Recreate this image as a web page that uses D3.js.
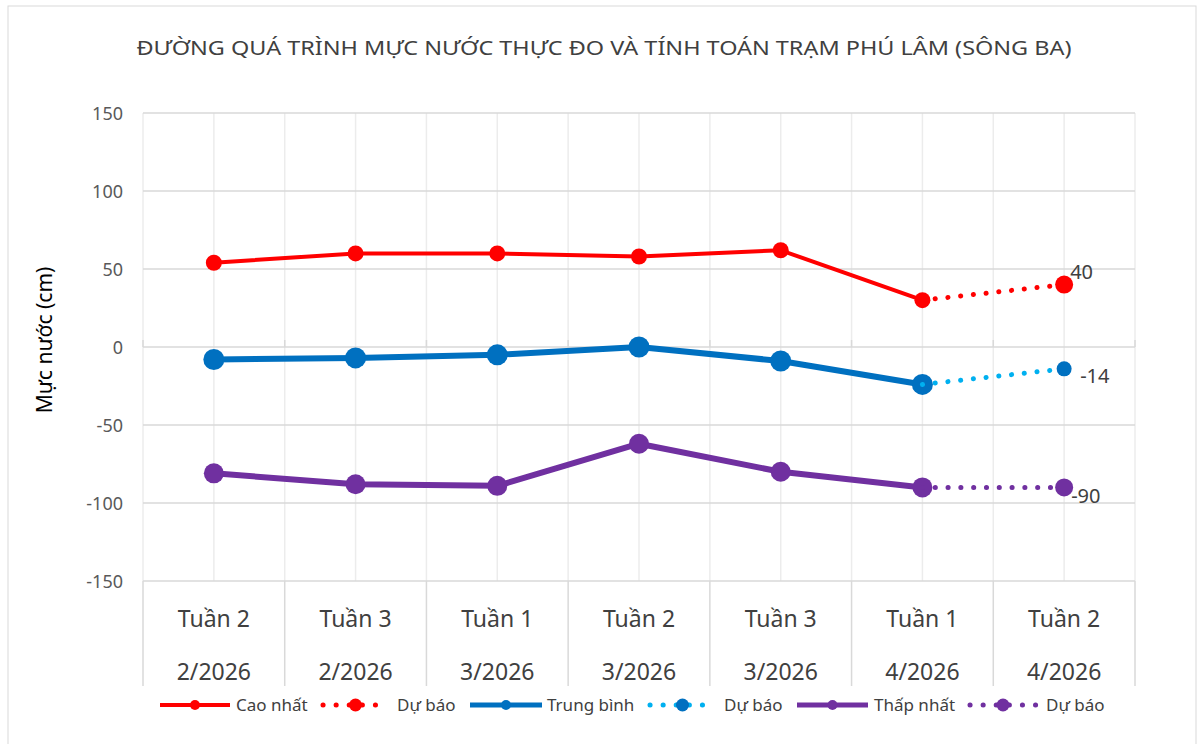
<!DOCTYPE html>
<html>
<head>
<meta charset="utf-8">
<script src="https://cdn.jsdelivr.net/npm/d3@7"></script>
<style>
  body { margin: 0; background: #fff; }
  text { font-family: "Noto Sans", "Open Sans", sans-serif; }
</style>
</head>
<body>
<script>
// du lieu doc tu hinh
const tuan = ["Tuần 2", "Tuần 3", "Tuần 1", "Tuần 2", "Tuần 3", "Tuần 1", "Tuần 2"];
const thang = ["2/2026", "2/2026", "3/2026", "3/2026", "3/2026", "4/2026", "4/2026"];
const caoNhat = [54, 60, 60, 58, 62, 30, null];
const duBaoCao = [null, null, null, null, null, 30, 40];
const trungBinh = [-8, -7, -5, 0, -9, -24, null];
const duBaoTB = [null, null, null, null, null, -24, -14];
const thapNhat = [-81, -88, -89, -62, -80, -90, null];
const duBaoThap = [null, null, null, null, null, -90, -90];
const yTicks = [150, 100, 50, 0, -50, -100, -150];

const W = 1204, H = 744;
const pLeft = 143, pRight = 1135, pTop = 113, pBottom = 581;

const svg = d3.select("body")
    .append("svg")
    .attr("width", W)
    .attr("height", H);

svg.append("rect")
    .attr("x", 8).attr("y", 6)
    .attr("width", 1188).attr("height", 745)
    .attr("fill", "#fff")
    .attr("stroke", "#d9d9d9");

const x = d3.scaleBand().domain(d3.range(tuan.length)).range([pLeft, pRight]).padding(0);
const y = d3.scaleLinear().domain([-150, 150]).range([pBottom, pTop]);
const cx = i => x(i) + x.bandwidth() / 2;

// luoi doc (bien va giua moi nhom)
const vLines = [];
d3.range(tuan.length).forEach(i => { vLines.push(x(i)); vLines.push(cx(i)); });
vLines.push(pRight);
svg.selectAll(".vgrid")
    .data(vLines)
    .enter()
    .append("line")
    .attr("class", "vgrid")
    .attr("x1", d => d).attr("x2", d => d)
    .attr("y1", pTop).attr("y2", pBottom)
    .attr("stroke", "#ececec")
    .attr("stroke-width", 1.5);

// luoi ngang
svg.selectAll(".hgrid")
    .data(yTicks)
    .enter()
    .append("line")
    .attr("class", "hgrid")
    .attr("x1", pLeft).attr("x2", pRight)
    .attr("y1", d => y(d)).attr("y2", d => y(d))
    .attr("stroke", "#d9d9d9")
    .attr("stroke-width", 1.5);

// truc 0 voi vach nho
svg.selectAll(".ztick")
    .data(d3.range(tuan.length + 1))
    .enter()
    .append("line")
    .attr("x1", i => pLeft + i * x.bandwidth()).attr("x2", i => pLeft + i * x.bandwidth())
    .attr("y1", y(0) - 7).attr("y2", y(0))
    .attr("stroke", "#d9d9d9")
    .attr("stroke-width", 1.5);

// khung nhan truc hoanh
svg.selectAll(".sep")
    .data(d3.range(tuan.length + 1))
    .enter()
    .append("line")
    .attr("class", "sep")
    .attr("x1", i => pLeft + i * x.bandwidth()).attr("x2", i => pLeft + i * x.bandwidth())
    .attr("y1", pBottom).attr("y2", 686)
    .attr("stroke", "#d9d9d9")
    .attr("stroke-width", 1.5);

// nhan truc tung
svg.selectAll(".ylab")
    .data(yTicks)
    .enter()
    .append("text")
    .attr("x", 123)
    .attr("y", d => y(d) + 7)
    .attr("text-anchor", "end")
    .attr("font-size", 18)
    .attr("fill", "#595959")
    .text(d => d);

svg.append("text")
    .attr("transform", `translate(52,340) rotate(-90)`)
    .attr("text-anchor", "middle")
    .attr("font-family", "Liberation Sans, Arial, sans-serif")
    .attr("font-size", 21)
    .attr("fill", "#000")
    .text("Mực nước (cm)");

// nhan truc hoanh
svg.selectAll(".xlab1")
    .data(tuan)
    .enter()
    .append("text")
    .attr("x", (d, i) => cx(i))
    .attr("y", 627)
    .attr("text-anchor", "middle")
    .attr("font-size", 23)
    .attr("fill", "#404040")
    .text(d => d);

svg.selectAll(".xlab2")
    .data(thang)
    .enter()
    .append("text")
    .attr("x", (d, i) => cx(i))
    .attr("y", 680)
    .attr("text-anchor", "middle")
    .attr("font-size", 23)
    .attr("fill", "#404040")
    .text(d => d);

// tieu de
svg.append("text")
    .attr("x", 604)
    .attr("y", 55)
    .attr("text-anchor", "middle")
    .attr("font-size", 20)
    .attr("fill", "#404040")
    .attr("textLength", 935)
    .attr("lengthAdjust", "spacingAndGlyphs")
    .text("ĐƯỜNG QUÁ TRÌNH MỰC NƯỚC THỰC ĐO VÀ TÍNH TOÁN TRẠM PHÚ LÂM (SÔNG BA)");

const line = d3.line()
    .defined(d => d != null)
    .x((d, i) => cx(i))
    .y(d => y(d));

const series = [
    { data: caoNhat, color: "#ff0000", width: 4, r: 8, dot: false },
    { data: duBaoCao, color: "#ff0000", width: 5, r: 9, dot: true, mcolor: "#ff0000" },
    { data: trungBinh, color: "#0070c0", width: 6, r: 10.5, dot: false },
    { data: duBaoTB, color: "#00b0f0", width: 5, r: 7.5, dot: true, mcolor: "#0070c0" },
    { data: thapNhat, color: "#7030a0", width: 6, r: 10, dot: false },
    { data: duBaoThap, color: "#7030a0", width: 5, r: 9, dot: true, mcolor: "#7030a0" }
];

series.forEach(s => {
    svg.append("path")
        .datum(s.data)
        .attr("d", line)
        .attr("fill", "none")
        .attr("stroke", s.color)
        .attr("stroke-width", s.width)
        .attr("stroke-linecap", "round")
        .attr("stroke-linejoin", "round")
        .attr("stroke-dasharray", s.dot ? "0.1 12.7" : null);
    // diem: chuoi du bao chi ve diem cuoi
    const pts = s.data.map((d, i) => ({ d, i }))
        .filter(p => p.d != null && (!s.dot || p.i === s.data.length - 1));
    svg.selectAll(null)
        .data(pts)
        .enter()
        .append("circle")
        .attr("cx", p => cx(p.i))
        .attr("cy", p => y(p.d))
        .attr("r", s.r)
        .attr("fill", s.dot ? s.mcolor : s.color);
});

// nhan gia tri du bao
const labels = [
    { v: duBaoCao[6], dx: 6, dy: -6 },
    { v: duBaoTB[6], dx: 16, dy: 14 },
    { v: duBaoThap[6], dx: 7, dy: 16 }
];
labels.forEach(l => {
    svg.append("text")
        .attr("x", cx(6) + l.dx)
        .attr("y", y(l.v) + l.dy)
        .attr("font-size", 20)
        .attr("fill", "#404040")
        .text(l.v);
});

// chu giai
const legend = [
    { label: "Cao nhất", color: "#ff0000", mcolor: "#ff0000", dot: false, x1: 160, x2: 230, w: 4, tx: 236 },
    { label: "Dự báo", color: "#ff0000", mcolor: "#ff0000", dot: true, x1: 323, x2: 388, w: 5, tx: 397 },
    { label: "Trung bình", color: "#0070c0", mcolor: "#0070c0", dot: false, x1: 470, x2: 542, w: 5, tx: 547 },
    { label: "Dự báo", color: "#00b0f0", mcolor: "#0070c0", dot: true, x1: 650, x2: 715, w: 5, tx: 724 },
    { label: "Thấp nhất", color: "#7030a0", mcolor: "#7030a0", dot: false, x1: 797, x2: 868, w: 5, tx: 874 },
    { label: "Dự báo", color: "#7030a0", mcolor: "#7030a0", dot: true, x1: 970, x2: 1036, w: 5, tx: 1046 }
];
const ly = 705;
legend.forEach(l => {
    svg.append("line")
        .attr("x1", l.x1).attr("x2", l.x2)
        .attr("y1", ly).attr("y2", ly)
        .attr("stroke", l.color)
        .attr("stroke-width", l.w)
        .attr("stroke-linecap", l.dot ? "round" : "butt")
        .attr("stroke-dasharray", l.dot ? "0.1 13" : null);
    svg.append("circle")
        .attr("cx", (l.x1 + l.x2) / 2)
        .attr("cy", ly)
        .attr("r", l.dot ? 6.5 : 5)
        .attr("fill", l.mcolor);
    svg.append("text")
        .attr("x", l.tx)
        .attr("y", ly + 6)
        .attr("font-size", 17)
        .attr("fill", "#404040")
        .text(l.label);
});
</script>
</body>
</html>
